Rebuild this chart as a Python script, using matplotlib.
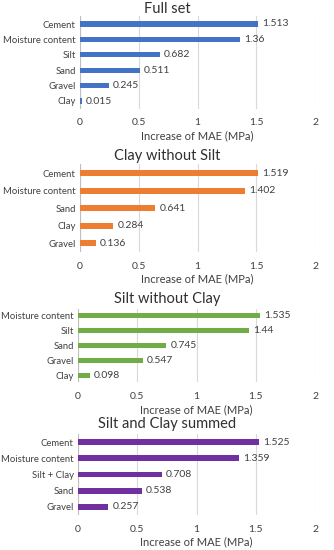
import matplotlib.pyplot as plt

plt.rcParams['font.family'] = ['Lato', 'DejaVu Sans']

titles = ["Full set", "Clay without Silt", "Silt without Clay", "Silt and Clay summed"]
labels_full = ["Cement", "Moisture content", "Silt", "Sand", "Gravel", "Clay"]
values_full = [1.513, 1.36, 0.682, 0.511, 0.245, 0.015]
labels_clay = ["Cement", "Moisture content", "Sand", "Clay", "Gravel"]
values_clay = [1.519, 1.402, 0.641, 0.284, 0.136]
labels_silt = ["Moisture content", "Silt", "Sand", "Gravel", "Clay"]
values_silt = [1.535, 1.44, 0.745, 0.547, 0.098]
labels_sum = ["Cement", "Moisture content", "Silt + Clay", "Sand", "Gravel"]
values_sum = [1.525, 1.359, 0.708, 0.538, 0.257]
colors = ["#4472C4", "#ED7D31", "#70AD47", "#7030A0"]

# (left px, top px, bottom px, title y px)
boxes = [(80, 16.3, 108.7, 9), (80, 164.3, 251.8, 156),
         (78, 308.6, 382.4, 299), (78, 433.9, 515.1, 424)]
W, H = 334, 550
txt = "#404040"

fig = plt.figure(figsize=(W / 100, H / 100), dpi=100)
data = [(labels_full, values_full), (labels_clay, values_clay),
        (labels_silt, values_silt), (labels_sum, values_sum)]

for (labels, values), title, color, (left, top, bot, ty) in zip(data, titles, colors, boxes):
    ax = fig.add_axes([left / W, 1 - bot / H, (315 - left) / W, (bot - top) / H])
    n = len(labels)
    pos = list(range(n))[::-1]
    ax.barh(pos, values, height=0.34, color=color, zorder=3)
    for p, v in zip(pos, values):
        ax.text(v + 0.035, p, f"{v:g}", va="center", ha="left", fontsize=7.5, color=txt)
    ax.set_xlim(0, 2)
    ax.set_ylim(-0.5, n - 0.5)
    ax.set_xticks([0, 0.5, 1, 1.5, 2])
    ax.set_xticklabels(["0", "0.5", "1", "1.5", "2"])
    ax.set_yticks(pos)
    ax.set_yticklabels(labels)
    ax.tick_params(length=0, labelsize=7.5, labelcolor=txt)
    ax.tick_params(axis="y", labelsize=6.8, pad=3)
    ax.tick_params(axis="x", pad=7)
    ax.grid(axis="x", color="#D9D9D9", linewidth=0.8, zorder=0)
    for s in ax.spines.values():
        s.set_visible(False)
    ax.axvline(0, color="#BFBFBF", linewidth=0.8, zorder=2)
    ax.set_xlabel("Increase of MAE (MPa)", fontsize=8, color=txt, labelpad=2)
    fig.text(0.5, 1 - ty / H, title, ha="center", va="center", fontsize=10.5, color="#303030")

fig.savefig("out.png", dpi=100)
